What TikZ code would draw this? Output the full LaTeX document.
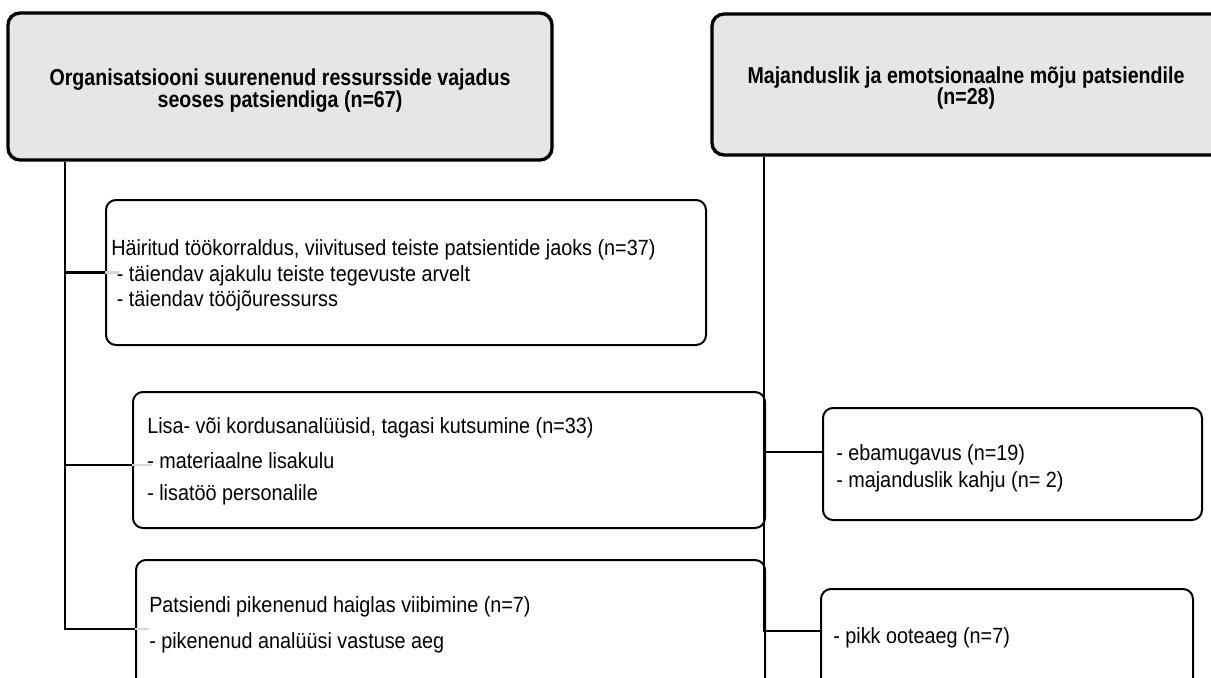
\documentclass[tikz,border=0pt]{standalone}
\usepackage{fontspec}
\setmainfont{Liberation Sans}[FakeStretch=0.9]
\newfontfamily\hdrfont{Liberation Sans}[FakeStretch=0.85]
\usetikzlibrary{fit}
\definecolor{hdrgray}{HTML}{E6E6E6}
\definecolor{stubgray}{HTML}{D6D6D6}
\begin{document}
\begin{tikzpicture}[x=0.75pt,y=-0.75pt,
  hdr/.style={draw=black, line width=2.5pt, rounded corners=9pt, fill=hdrgray, inner sep=0pt},
  item/.style={draw=black, line width=1.5pt, rounded corners=7.5pt, fill=white, inner sep=0pt},
  conn/.style={draw=black, line width=2pt},
  stub/.style={draw=stubgray, line width=2pt},
  htxt/.style={font=\hdrfont\bfseries\fontsize{17.3}{18}\selectfont, inner sep=0pt, anchor=base},
  txt/.style={font=\fontsize{16.5}{17}\selectfont, inner sep=0pt, anchor=base west}]
\useasboundingbox (0,0) rectangle (1211,678);
\clip (0,0) rectangle (1211,678);

% category headers
\node[hdr, fit={(8,13) (552,160)}] (org) {};
\node[hdr, fit={(712,14) (1230,155)}] (mj) {};
\node[htxt] (orgt1) at (280,85) {Organisatsiooni suurenenud ressursside vajadus};
\node[htxt] (orgt2) at (280,107) {seoses patsiendiga (n=67)};
\node[htxt] (mjt1) at (966,83) {Majanduslik ja emotsionaalne mõju patsiendile};
\node[htxt] (mjt2) at (966,104) {(n=28)};

% sub-category boxes
\node[item, fit={(106,200) (706,345)}] (a) {};
\node[item, fit={(133,392) (765,528)}] (b) {};
\node[item, fit={(136,560) (765,700)}] (c) {};
\node[item, fit={(823,408) (1202,520)}] (d) {};
\node[item, fit={(821,589) (1193,700)}] (e) {};

% junction points on the trunks
\coordinate (lj) at (65,629);
\coordinate (bj) at (65,465);
\coordinate (rj) at (764,631);
\coordinate (dj) at (764,452);

% left trunk and branches
\draw[conn] (org.south -| lj) -- (lj) -- (lj -| c.west);
\draw[conn] (a.west -| lj) -- (a.west);
\draw[conn] (bj) -- (bj -| b.west);
\draw[stub] (a.west) -- ++(14,0);
\draw[stub] (bj -| b.west) -- ++(20,0);
\draw[stub] (lj -| c.west) -- ++(14,0);

% right trunk and branches
\draw[conn] (mj.south -| rj) -- (rj) -- (rj -| e.west);
\draw[conn] (dj) -- (dj -| d.west);

% box texts
\node[txt] (a1) at (111,255) {Häiritud töökorraldus, viivitused teiste patsientide jaoks (n=37)};
\node[txt] (a2) at (111,281) {\ - täiendav ajakulu teiste tegevuste arvelt};
\node[txt] (a3) at (111,306) {\ - täiendav tööjõuressurss};
\node[txt] (b1) at (147,433) {Lisa- või kordusanalüüsid, tagasi kutsumine (n=33)};
\node[txt] (b2) at (147,468) {- materiaalne lisakulu};
\node[txt] (b3) at (147,500) {- lisatöö personalile};
\node[txt] (c1) at (149,612) {Patsiendi pikenenud haiglas viibimine (n=7)};
\node[txt] (c2) at (149,648) {- pikenenud analüüsi vastuse aeg};
\node[txt] (d1) at (836,460) {- ebamugavus (n=19)};
\node[txt] (d2) at (836,487) {- majanduslik kahju (n= 2)};
\node[txt] (e1) at (833,643) {- pikk ooteaeg (n=7)};
\end{tikzpicture}
\end{document}
